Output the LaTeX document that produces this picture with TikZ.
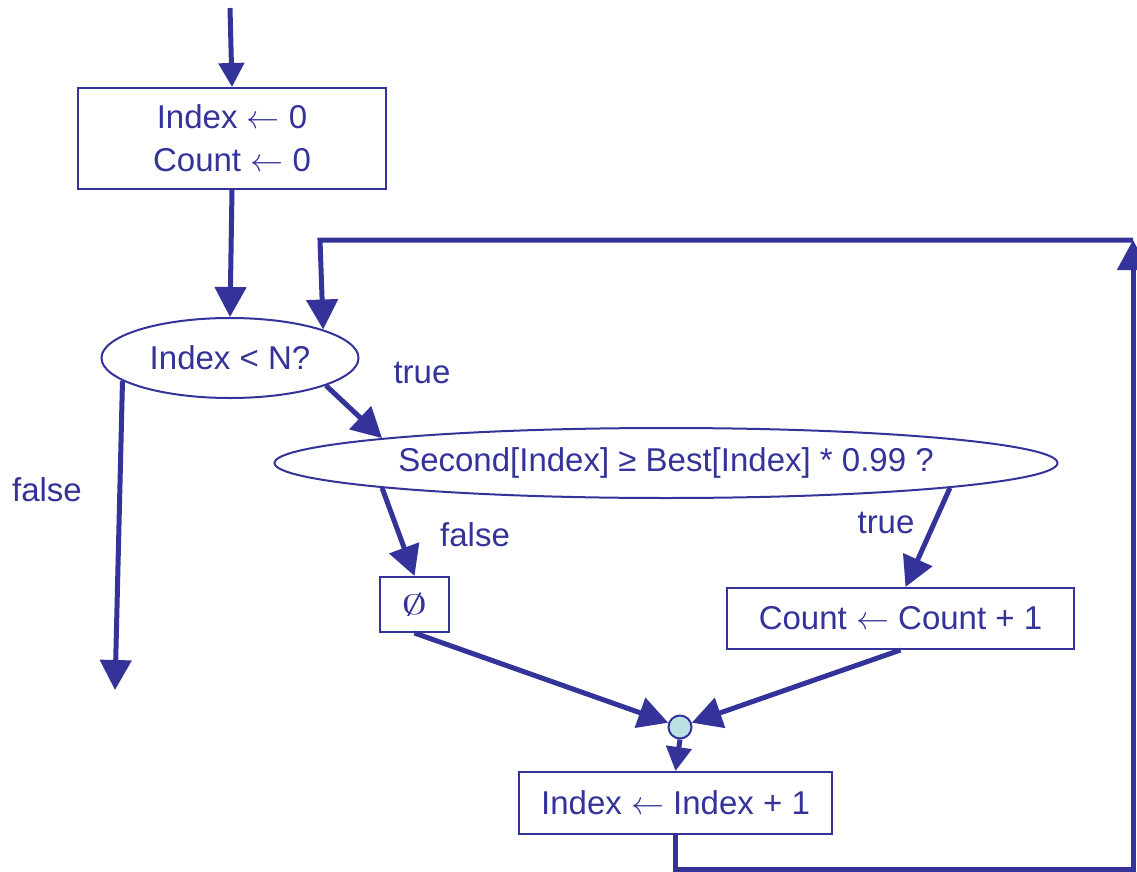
\RequirePackage{fix-cm}
\documentclass[tikz,border=0pt]{standalone}
\usepackage{graphicx}
\usepackage{fontspec}
\setmainfont{Liberation Sans}
\usetikzlibrary{shapes.geometric,arrows.meta}
\definecolor{fb}{HTML}{333399}
\definecolor{jf}{HTML}{BBE0E3}
\begin{document}
\begin{tikzpicture}[x=1pt,y=-1pt,
 every node/.style={text=fb, font=\fontsize{33}{43}\selectfont},
 box/.style={draw=fb, line width=2pt, rectangle, inner sep=0pt},
 oval/.style={draw=fb, line width=2pt, ellipse, inner sep=0pt},
 conn/.style={draw=fb, line width=5pt, -{Triangle[length=30pt,width=31pt]}},
 connsm/.style={draw=fb, line width=5pt, -{Triangle[length=24pt,width=25pt]}}]
\useasboundingbox (0,0) rectangle (1137,872);
\node[box, minimum width=308pt, minimum height=101pt, align=center] (init) at (232,138.5) {Index $\leftarrow$ 0\\Count $\leftarrow$ 0};
\node[oval, minimum width=257pt, minimum height=80pt] (e1) at (230,358) {Index < N?};
\node[oval, minimum width=783pt, minimum height=70pt] (e2) at (666,463) {Second[Index] ≥ Best[Index] * 0.99 ?};
\node[box, minimum width=69pt, minimum height=55pt] (nul) at (414.5,604.5) {\scalebox{1.55}[0.85]{$\emptyset$}};
\node[box, minimum width=347pt, minimum height=61pt] (cnt) at (900.5,618.5) {Count $\leftarrow$ Count + 1};
\node[circle, draw=fb, fill=jf, line width=2pt, minimum size=23pt, inner sep=0pt] (jn) at (680,727) {};
\node[box, minimum width=313pt, minimum height=62pt] (inc) at (675.5,803) {Index $\leftarrow$ Index + 1};
\node (lf1) at (47,490) {false};
\node (lt1) at (422,373) {true};
\node (lf2) at (475,535) {false};
\node (lt2) at (886,523) {true};
\coordinate (src) at (230,8);
\coordinate (fend) at (115,690);
\coordinate (cr) at (1133,240);
\coordinate (cl) at (320,240);
\draw[connsm] (src) -- (init.north);
\draw[conn] (init.south) -- (e1.north);
\draw[conn] (e1.192) -- (fend);
\draw[conn] (e1.-16) -- (e2.175);
\draw[conn] (e2.185) -- (nul.north);
\draw[conn] (e2.-5.2) -- ([xshift=5pt]cnt.north);
\draw[conn] (nul.south) -- (jn.160);
\draw[conn] (cnt.south) -- (jn.20);
\draw[connsm] (jn.south) -- (inc.north);
\draw[conn] (inc.south) -- ++(0,34) -| (cr);
\draw[conn] (cr) -- (cl) -- (e1.17.6);
\end{tikzpicture}
\end{document}
